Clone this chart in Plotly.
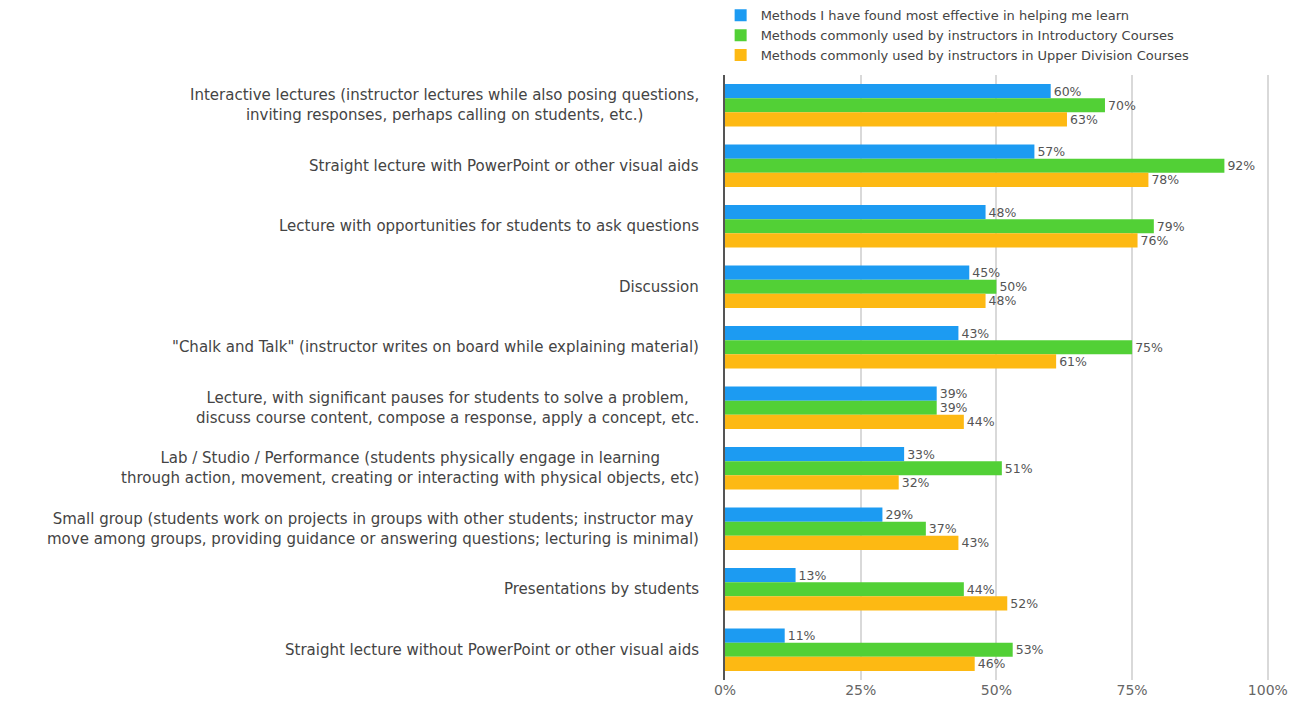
import plotly.graph_objects as go

categories = [
    "Interactive lectures (instructor lectures while also posing questions,<br>inviting responses, perhaps calling on students, etc.)",
    "Straight lecture with PowerPoint or other visual aids",
    "Lecture with opportunities for students to ask questions",
    "Discussion",
    "\"Chalk and Talk\" (instructor writes on board while explaining material)",
    "Lecture, with significant pauses for students to solve a problem,<br>discuss course content, compose a response, apply a concept, etc.",
    "Lab / Studio / Performance (students physically engage in learning<br>through action, movement, creating or interacting with physical objects, etc)",
    "Small group (students work on projects in groups with other students; instructor may<br>move among groups, providing guidance or answering questions; lecturing is minimal)",
    "Presentations by students",
    "Straight lecture without PowerPoint or other visual aids",
]

series_names = [
    "Methods I have found most effective in helping me learn",
    "Methods commonly used by instructors in Introductory Courses",
    "Methods commonly used by instructors in Upper Division Courses",
]
effective = [60, 57, 48, 45, 43, 39, 33, 29, 13, 11]
intro = [70, 92, 79, 50, 75, 39, 51, 37, 44, 53]
upper = [63, 78, 76, 48, 61, 44, 32, 43, 52, 46]
colors = ["#1C9BF2", "#52D036", "#FDB913"]

tick_vals = [0, 25, 50, 75, 100]
tick_text = ["0%", "25%", "50%", "75%", "100%"]

font_family = "DejaVu Sans, Arial, sans-serif"

fig = go.Figure()
for name, vals, col in zip(series_names, [effective, intro, upper], colors):
    fig.add_trace(go.Bar(
        y=categories, x=vals, name=name, orientation="h",
        marker=dict(color=col, line=dict(width=0)),
        text=[f"{v}%" for v in vals], textposition="outside",
        constraintext="none",
        textfont=dict(size=12.5, color="#555555", family=font_family),
        cliponaxis=False,
    ))

annotations = []
for c in categories:
    annotations.append(dict(
        xref="paper", x=0, xshift=-24, yref="y", y=c,
        text=c, showarrow=False, xanchor="right", yanchor="middle",
        align="center", font=dict(size=15, color="#444444", family=font_family),
    ))

fig.update_layout(
    width=1307, height=708,
    margin=dict(l=725, r=37, t=75, b=28, autoexpand=False),
    paper_bgcolor="white", plot_bgcolor="white",
    barmode="group", bargap=0.3, bargroupgap=0,
    font=dict(family=font_family, color="#555555"),
    showlegend=True,
    legend=dict(x=-0.008, y=1.1235, xanchor="left", yanchor="top",
                font=dict(size=13, color="#444444", family=font_family),
                traceorder="normal", bgcolor="rgba(0,0,0,0)",
                tracegroupgap=0),
    annotations=annotations,
    xaxis=dict(range=[0, 100.4], tickvals=tick_vals, ticktext=tick_text,
               showgrid=True, gridcolor="#D9D9D9", gridwidth=1.5,
               zeroline=False, showline=False,
               tickfont=dict(size=14, color="#666666", family=font_family),
               fixedrange=True),
    yaxis=dict(autorange="reversed", showticklabels=False, ticks="",
               showline=True, linecolor="#555555", linewidth=1.5,
               showgrid=False, fixedrange=True),
)

fig.write_html("out.html")
